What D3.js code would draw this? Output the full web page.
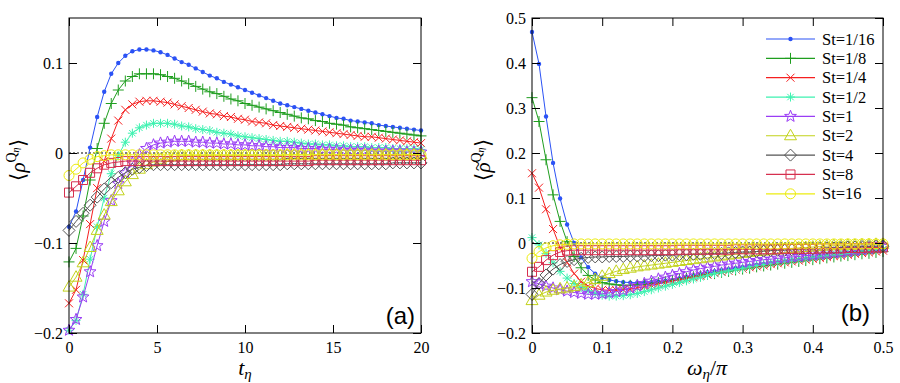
<!DOCTYPE html>
<html><head><meta charset="utf-8">
<script src="https://cdn.jsdelivr.net/npm/d3@7"></script>
<style>body{margin:0;background:#fff}</style>
</head><body>
<svg id="chart" width="900" height="383"></svg>
<script>
// ---------- data ----------
const stLabels = ["St=1/16","St=1/8","St=1/4","St=1/2","St=1","St=2","St=4","St=8","St=16"];
const colors = ["#2b52f5","#1f9e1f","#f52020","#3df2b0","#9a3df5","#c2d21a","#555555","#d6304f","#ecec10"];
const markerTypes = ["dot","plus","cross","asterisk","star","triangle","diamond","square","circle"];

const tEta = [0,0.4,0.8,1.2,1.6,2,2.4,2.8,3.2,3.6,4,4.4,4.8,5.2,5.6,6,6.4,6.8,7.2,7.6,8,8.4,8.8,9.2,9.6,10,10.4,10.8,11.2,11.6,12,12.4,12.8,13.2,13.6,14,14.4,14.8,15.2,15.6,16,16.4,16.8,17.2,17.6,18,18.4,18.8,19.2,19.6,20];
const omega = [0,0.01,0.02,0.03,0.04,0.05,0.06,0.07,0.08,0.09,0.1,0.11,0.12,0.13,0.14,0.15,0.16,0.17,0.18,0.19,0.2,0.21,0.22,0.23,0.24,0.25,0.26,0.27,0.28,0.29,0.3,0.31,0.32,0.33,0.34,0.35,0.36,0.37,0.38,0.39,0.4,0.41,0.42,0.43,0.44,0.45,0.46,0.47,0.48,0.49,0.5];

// panel (a): <rho^Q> vs t_eta
const aSt1_16 = [-0.082,-0.065,-0.030,0.006,0.040,0.068,0.088,0.100,0.108,0.113,0.115,0.115,0.114,0.112,0.109,0.105,0.101,0.098,0.094,0.090,0.086,0.083,0.079,0.076,0.073,0.070,0.067,0.064,0.061,0.058,0.055,0.053,0.051,0.049,0.047,0.045,0.043,0.041,0.039,0.038,0.036,0.035,0.034,0.033,0.031,0.030,0.029,0.028,0.027,0.026,0.025];
const aSt1_8 = [-0.121,-0.106,-0.070,-0.030,0.005,0.033,0.055,0.070,0.080,0.085,0.088,0.088,0.088,0.087,0.085,0.083,0.080,0.077,0.074,0.071,0.068,0.066,0.063,0.060,0.058,0.055,0.053,0.051,0.049,0.047,0.045,0.043,0.041,0.039,0.038,0.036,0.035,0.033,0.032,0.031,0.029,0.028,0.027,0.026,0.025,0.024,0.023,0.022,0.021,0.020,0.019];
const aSt1_4 = [-0.167,-0.152,-0.119,-0.079,-0.039,-0.009,0.016,0.036,0.048,0.054,0.057,0.058,0.058,0.057,0.056,0.054,0.052,0.050,0.048,0.046,0.044,0.043,0.041,0.040,0.038,0.037,0.035,0.034,0.033,0.031,0.030,0.029,0.028,0.027,0.026,0.025,0.024,0.023,0.022,0.021,0.020,0.019,0.018,0.018,0.017,0.016,0.015,0.014,0.013,0.012,0.011];
const aSt1_2 = [-0.197,-0.186,-0.157,-0.118,-0.082,-0.050,-0.023,-0.003,0.012,0.022,0.028,0.031,0.033,0.033,0.033,0.032,0.030,0.029,0.027,0.026,0.025,0.023,0.022,0.021,0.019,0.018,0.017,0.016,0.015,0.014,0.013,0.013,0.012,0.011,0.010,0.010,0.009,0.009,0.008,0.008,0.007,0.007,0.007,0.006,0.006,0.006,0.005,0.005,0.005,0.005,0.004];
const aSt1 = [-0.197,-0.185,-0.160,-0.132,-0.103,-0.076,-0.053,-0.034,-0.022,-0.011,-0.002,0.005,0.009,0.011,0.012,0.013,0.013,0.013,0.012,0.012,0.011,0.011,0.010,0.010,0.009,0.009,0.008,0.008,0.007,0.007,0.006,0.006,0.006,0.005,0.005,0.005,0.004,0.004,0.004,0.003,0.003,0.003,0.003,0.002,0.002,0.002,0.002,0.002,0.001,0.001,0.001];
const aSt2 = [-0.149,-0.138,-0.122,-0.105,-0.086,-0.069,-0.054,-0.042,-0.032,-0.024,-0.018,-0.013,-0.010,-0.007,-0.005,-0.004,-0.003,-0.003,-0.003,-0.003,-0.003,-0.003,-0.003,-0.003,-0.003,-0.003,-0.003,-0.003,-0.003,-0.003,-0.003,-0.002,-0.002,-0.002,-0.002,-0.002,-0.002,-0.002,-0.002,-0.002,-0.002,-0.002,-0.002,-0.002,-0.002,-0.002,-0.002,-0.002,-0.002,-0.002,-0.002];
const aSt4 = [-0.086,-0.076,-0.067,-0.058,-0.049,-0.040,-0.033,-0.027,-0.022,-0.018,-0.016,-0.014,-0.013,-0.013,-0.013,-0.013,-0.013,-0.013,-0.013,-0.013,-0.013,-0.013,-0.013,-0.013,-0.013,-0.013,-0.013,-0.013,-0.013,-0.013,-0.013,-0.012,-0.012,-0.012,-0.012,-0.012,-0.012,-0.012,-0.012,-0.012,-0.012,-0.012,-0.012,-0.012,-0.012,-0.012,-0.011,-0.011,-0.011,-0.011,-0.011];
const aSt8 = [-0.044,-0.037,-0.030,-0.022,-0.017,-0.013,-0.011,-0.010,-0.009,-0.009,-0.009,-0.009,-0.009,-0.009,-0.009,-0.009,-0.009,-0.009,-0.009,-0.009,-0.009,-0.009,-0.009,-0.009,-0.009,-0.009,-0.009,-0.009,-0.009,-0.009,-0.009,-0.009,-0.009,-0.009,-0.009,-0.008,-0.008,-0.008,-0.008,-0.008,-0.008,-0.008,-0.008,-0.008,-0.008,-0.008,-0.008,-0.008,-0.008,-0.008,-0.008];
const aSt16 = [-0.025,-0.018,-0.011,-0.007,-0.004,-0.003,-0.002,-0.002,-0.002,-0.002,-0.002,-0.002,-0.002,-0.002,-0.002,-0.002,-0.002,-0.002,-0.002,-0.002,-0.002,-0.002,-0.002,-0.002,-0.002,-0.002,-0.002,-0.002,-0.002,-0.002,-0.002,-0.002,-0.002,-0.002,-0.002,-0.002,-0.002,-0.002,-0.002,-0.002,-0.002,-0.002,-0.002,-0.002,-0.002,-0.002,-0.002,-0.002,-0.002,-0.002,-0.002];

// panel (b): <rho~^Q> vs omega_eta/pi
const bSt1_16 = [0.469,0.398,0.281,0.178,0.099,0.041,0.000,-0.032,-0.054,-0.068,-0.077,-0.082,-0.085,-0.087,-0.088,-0.088,-0.088,-0.087,-0.086,-0.084,-0.082,-0.079,-0.076,-0.073,-0.070,-0.067,-0.064,-0.061,-0.059,-0.056,-0.054,-0.051,-0.049,-0.047,-0.045,-0.043,-0.041,-0.039,-0.037,-0.035,-0.033,-0.031,-0.029,-0.028,-0.026,-0.024,-0.022,-0.021,-0.019,-0.017,-0.015];
const bSt1_8 = [0.323,0.270,0.185,0.107,0.048,0.003,-0.030,-0.055,-0.072,-0.082,-0.088,-0.091,-0.093,-0.094,-0.094,-0.093,-0.092,-0.090,-0.088,-0.086,-0.083,-0.080,-0.078,-0.075,-0.073,-0.070,-0.068,-0.065,-0.063,-0.060,-0.058,-0.056,-0.053,-0.051,-0.049,-0.047,-0.045,-0.043,-0.041,-0.039,-0.037,-0.035,-0.033,-0.031,-0.029,-0.028,-0.026,-0.024,-0.023,-0.021,-0.019];
const bSt1_4 = [0.155,0.123,0.075,0.031,-0.010,-0.043,-0.068,-0.086,-0.096,-0.101,-0.104,-0.105,-0.105,-0.104,-0.102,-0.100,-0.097,-0.094,-0.091,-0.088,-0.085,-0.082,-0.079,-0.076,-0.073,-0.070,-0.067,-0.064,-0.062,-0.059,-0.057,-0.054,-0.052,-0.050,-0.047,-0.045,-0.043,-0.041,-0.039,-0.037,-0.035,-0.033,-0.031,-0.029,-0.028,-0.026,-0.024,-0.022,-0.021,-0.019,-0.017];
const bSt1_2 = [0.012,-0.004,-0.023,-0.044,-0.063,-0.078,-0.090,-0.099,-0.106,-0.112,-0.116,-0.118,-0.118,-0.117,-0.115,-0.112,-0.108,-0.104,-0.100,-0.096,-0.092,-0.088,-0.084,-0.080,-0.076,-0.072,-0.068,-0.065,-0.062,-0.059,-0.056,-0.053,-0.050,-0.048,-0.045,-0.043,-0.041,-0.039,-0.037,-0.035,-0.033,-0.031,-0.029,-0.027,-0.026,-0.024,-0.022,-0.020,-0.018,-0.016,-0.014];
const bSt1 = [-0.086,-0.091,-0.096,-0.100,-0.104,-0.107,-0.110,-0.112,-0.114,-0.114,-0.113,-0.111,-0.108,-0.105,-0.100,-0.095,-0.090,-0.085,-0.080,-0.076,-0.072,-0.068,-0.064,-0.060,-0.057,-0.054,-0.052,-0.049,-0.047,-0.045,-0.043,-0.041,-0.039,-0.037,-0.036,-0.034,-0.033,-0.031,-0.030,-0.028,-0.027,-0.025,-0.024,-0.022,-0.021,-0.019,-0.017,-0.015,-0.013,-0.011,-0.008];
const bSt2 = [-0.128,-0.116,-0.109,-0.105,-0.102,-0.100,-0.097,-0.093,-0.088,-0.081,-0.074,-0.068,-0.063,-0.059,-0.056,-0.053,-0.051,-0.049,-0.047,-0.045,-0.043,-0.041,-0.039,-0.037,-0.035,-0.033,-0.031,-0.029,-0.027,-0.025,-0.023,-0.021,-0.019,-0.018,-0.016,-0.015,-0.013,-0.012,-0.011,-0.010,-0.009,-0.008,-0.007,-0.006,-0.006,-0.005,-0.005,-0.004,-0.004,-0.003,-0.003];
const bSt4 = [-0.114,-0.090,-0.071,-0.058,-0.048,-0.041,-0.037,-0.034,-0.032,-0.031,-0.031,-0.030,-0.030,-0.030,-0.029,-0.029,-0.029,-0.028,-0.028,-0.027,-0.027,-0.026,-0.026,-0.025,-0.025,-0.024,-0.023,-0.023,-0.022,-0.021,-0.020,-0.020,-0.019,-0.018,-0.017,-0.016,-0.016,-0.015,-0.014,-0.013,-0.013,-0.012,-0.011,-0.011,-0.010,-0.009,-0.009,-0.008,-0.008,-0.007,-0.007];
const bSt8 = [-0.064,-0.053,-0.038,-0.027,-0.020,-0.017,-0.016,-0.016,-0.016,-0.016,-0.016,-0.016,-0.016,-0.016,-0.016,-0.016,-0.016,-0.016,-0.016,-0.016,-0.016,-0.015,-0.015,-0.015,-0.015,-0.015,-0.015,-0.015,-0.015,-0.014,-0.014,-0.014,-0.014,-0.014,-0.014,-0.014,-0.013,-0.013,-0.013,-0.013,-0.013,-0.012,-0.012,-0.012,-0.012,-0.011,-0.011,-0.011,-0.010,-0.010,-0.010];
const bSt16 = [-0.034,-0.019,-0.011,-0.006,-0.004,-0.003,-0.002,-0.002,-0.002,-0.002,-0.002,-0.002,-0.002,-0.002,-0.002,-0.002,-0.002,-0.002,-0.002,-0.002,-0.002,-0.002,-0.002,-0.002,-0.002,-0.002,-0.002,-0.002,-0.002,-0.002,-0.002,-0.002,-0.002,-0.002,-0.002,-0.002,-0.002,-0.002,-0.002,-0.002,-0.002,-0.002,-0.002,-0.002,-0.002,-0.002,-0.002,-0.002,-0.002,-0.002,-0.002];

const seriesA = [aSt1_16,aSt1_8,aSt1_4,aSt1_2,aSt1,aSt2,aSt4,aSt8,aSt16];
const seriesB = [bSt1_16,bSt1_8,bSt1_4,bSt1_2,bSt1,bSt2,bSt4,bSt8,bSt16];

const xTicksA = [0,5,10,15,20];
const yTicksA = [-0.2,-0.1,0,0.1];
const xTicksB = [0,0.1,0.2,0.3,0.4,0.5];
const yTicksB = [-0.2,-0.1,0,0.1,0.2,0.3,0.4,0.5];

// ---------- drawing ----------
const SERIF = '"Liberation Serif","Times New Roman",Times,serif';
const SANS = '"Liberation Sans",Arial,Helvetica,sans-serif';
const svg = d3.select("#chart");
const fmt = v => v === 0 ? "0" : (v < 0 ? "\u2212" + String(Math.abs(v)) : String(v));

function starPath(ro, ri) {
  const pts = [];
  for (let k = 0; k < 10; k++) {
    const r = k % 2 === 0 ? ro : ri;
    const a = -Math.PI / 2 + k * Math.PI / 5;
    pts.push([r * Math.cos(a), r * Math.sin(a)]);
  }
  return "M" + pts.map(p => p[0].toFixed(2) + "," + p[1].toFixed(2)).join("L") + "Z";
}
const markerPaths = {
  plus: "M-5.5,0H5.5M0,-5.5V5.5",
  cross: "M-4,-4L4,4M-4,4L4,-4",
  asterisk: "M-4.5,0H4.5M0,-4.5V4.5M-3.2,-3.2L3.2,3.2M-3.2,3.2L3.2,-3.2",
  star: starPath(6.2, 2.6),
  triangle: "M0,-6.5L6,4L-6,4Z",
  diamond: "M0,-6L6,0L0,6L-6,0Z",
  square: "M-4.5,-4.5H4.5V4.5H-4.5Z"
};
function drawMarker(g, type, color, x, y) {
  if (type === "dot") {
    g.append("circle").attr("cx", x).attr("cy", y).attr("r", 2.2).attr("fill", color);
  } else if (type === "circle") {
    g.append("circle").attr("cx", x).attr("cy", y).attr("r", 5).attr("fill", "none")
      .attr("stroke", color).attr("stroke-width", 1);
  } else {
    g.append("path").attr("d", markerPaths[type]).attr("transform", `translate(${x},${y})`)
      .attr("fill", "none").attr("stroke", color).attr("stroke-width", 1);
  }
}

function panel(opts) {
  const {xs, series, xDom, yDom, xR, yR, xTicks, yTicks, yPad} = opts;
  const x = d3.scaleLinear(xDom, xR);
  const y = d3.scaleLinear(yDom, yR);
  const g = svg.append("g");
  g.append("line").attr("x1", xR[0]).attr("x2", xR[1]).attr("y1", y(0)).attr("y2", y(0))
    .attr("stroke", "#000").attr("stroke-width", 1).attr("stroke-dasharray", "2,2");
  const line = d3.line().x((d, i) => x(xs[i])).y(d => y(d));
  series.forEach((vals, si) => {
    const sg = g.append("g");
    sg.append("path").attr("d", line(vals)).attr("fill", "none")
      .attr("stroke", colors[si]).attr("stroke-width", 1);
    vals.forEach((v, i) => drawMarker(sg, markerTypes[si], colors[si], x(xs[i]), y(v)));
  });
  g.append("rect").attr("x", xR[0]).attr("y", yR[1]).attr("width", xR[1] - xR[0])
    .attr("height", yR[0] - yR[1]).attr("fill", "none").attr("stroke", "#000").attr("stroke-width", 1);
  const style = (sel, labels) => {
    sel.select(".domain").remove();
    sel.selectAll(".tick line").attr("stroke", "#000");
    sel.attr("font-family", null).attr("font-size", null);
    sel.selectAll("text").style("font-family", SERIF).style("font-size", "16px").attr("fill", "#000");
    if (!labels) sel.selectAll("text").remove();
  };
  g.append("g").attr("transform", `translate(0,${yR[0]})`)
    .call(d3.axisBottom(x).tickValues(xTicks).tickSizeInner(-8).tickSizeOuter(0).tickPadding(9).tickFormat(fmt))
    .call(s => style(s, true));
  g.append("g").attr("transform", `translate(0,${yR[1]})`)
    .call(d3.axisTop(x).tickValues(xTicks).tickSizeInner(-8).tickSizeOuter(0))
    .call(s => style(s, false));
  g.append("g").attr("transform", `translate(${xR[0]},0)`)
    .call(d3.axisLeft(y).tickValues(yTicks).tickSizeInner(-8).tickSizeOuter(0).tickPadding(yPad).tickFormat(fmt))
    .call(s => style(s, true));
  g.append("g").attr("transform", `translate(${xR[1]},0)`)
    .call(d3.axisRight(y).tickValues(yTicks).tickSizeInner(-8).tickSizeOuter(0))
    .call(s => style(s, false));
  return {x, y, g};
}

panel({xs: tEta, series: seriesA, xDom: [0, 20], yDom: [-0.2, 0.15], xR: [69, 421], yR: [333, 18],
  xTicks: xTicksA, yTicks: yTicksA, yPad: 6});
panel({xs: omega, series: seriesB, xDom: [0, 0.5], yDom: [-0.2, 0.5], xR: [532, 883], yR: [333, 18],
  xTicks: xTicksB, yTicks: yTicksB, yPad: 6});

// panel letters
svg.append("text").attr("x", 415).attr("y", 324).attr("text-anchor", "end")
  .style("font-family", SANS).style("font-size", "24px").text("(a)");
svg.append("text").attr("x", 870).attr("y", 321).attr("text-anchor", "end")
  .style("font-family", SANS).style("font-size", "24px").text("(b)");

// axis titles
const tx = svg.append("text").attr("x", 245).attr("y", 375).attr("text-anchor", "middle")
  .style("font-family", SERIF).style("font-size", "22px");
tx.append("tspan").attr("font-style", "italic").text("t");
tx.append("tspan").attr("font-style", "italic").style("font-size", "15px").attr("dy", 4).text("η");

const wx = svg.append("text").attr("x", 707).attr("y", 375).attr("text-anchor", "middle")
  .style("font-family", SERIF).style("font-size", "22px");
wx.append("tspan").attr("font-style", "italic").text("ω");
wx.append("tspan").attr("font-style", "italic").style("font-size", "15px").attr("dy", 4).text("η");
wx.append("tspan").attr("dy", -4).text("/");
wx.append("tspan").attr("font-style", "italic").text("π");

function yTitle(x, y, tilde) {
  const tr = `translate(${x},${y}) rotate(-90)`;
  const t = svg.append("text").attr("transform", tr)
    .attr("text-anchor", "middle").style("font-family", SERIF).style("font-size", "21px");
  t.append("tspan").text("\u27E8");
  t.append("tspan").attr("font-style", "italic").text("ρ");
  t.append("tspan").style("font-size", "14px").attr("dy", -9).text("Q");
  t.append("tspan").style("font-size", "10px").attr("font-style", "italic").attr("dy", 3).text("η");
  t.append("tspan").attr("dy", 6).text("\u27E9");
  if (tilde) {
    const n = t.node();
    const s = n.getStartPositionOfChar(1), e = n.getEndPositionOfChar(1);
    svg.append("text").attr("transform", tr)
      .attr("x", (s.x + e.x) / 2 + 1.5).attr("y", s.y - 6).attr("text-anchor", "middle")
      .style("font-family", SERIF).style("font-size", "18px").text("~");
  }
}
yTitle(25, 160, false);
yTitle(490, 160, true);

// legend
const legY0 = 39, legDy = 19.35;
stLabels.forEach((lab, i) => {
  const yy = legY0 + i * legDy;
  const lg = svg.append("g");
  lg.append("line").attr("x1", 766).attr("x2", 815).attr("y1", yy).attr("y2", yy)
    .attr("stroke", colors[i]).attr("stroke-width", 1.2);
  drawMarker(lg, markerTypes[i], colors[i], 790.5, yy);
  lg.append("text").attr("x", 822).attr("y", yy + 5.5)
    .style("font-family", SERIF).style("font-size", "16.5px").text(lab);
});
</script>
</body></html>
